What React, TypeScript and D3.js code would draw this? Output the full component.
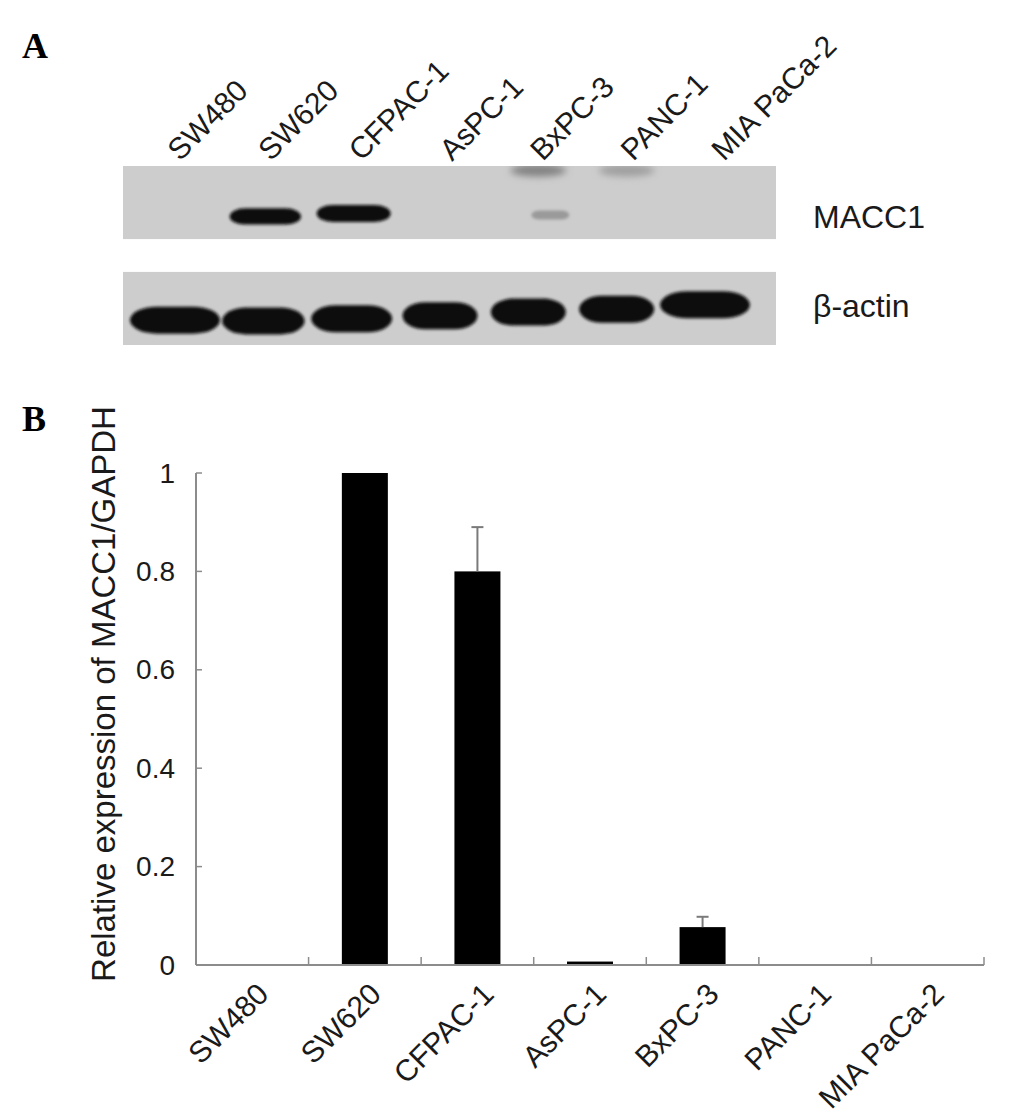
import React from 'react';
import * as d3 from 'd3';

// cell lines (same order in blot and bar chart)
const cellLines = ['SW480', 'SW620', 'CFPAC-1', 'AsPC-1', 'BxPC-3', 'PANC-1', 'MIA PaCa-2'];

// panel B: qPCR, MACC1 / GAPDH
const relExpression = [0.001, 1.0, 0.8, 0.007, 0.077, 0.001, 0.001];
const expressionSD = [0, 0, 0.09, 0, 0.021, 0, 0];
const yTicks = [0, 0.2, 0.4, 0.6, 0.8, 1];
const yTickLabels = ['0', '0.2', '0.4', '0.6', '0.8', '1'];

// panel A: western blot, band density (0..1) and migration (fraction of strip height)
const maccDensity = [0, 0.93, 1, 0, 0.2, 0, 0];
const maccMigration = [0.68, 0.69, 0.65, 0.68, 0.67, 0.68, 0.68];
const maccSmear = [0, 0, 0, 0, 0.3, 0.18, 0];
const actinDensity = [1, 0.9, 0.88, 0.8, 0.8, 0.8, 1];
const actinMigration = [0.66, 0.67, 0.64, 0.6, 0.55, 0.51, 0.45];
const blotRows = ['MACC1', 'β-actin'];

const W = 1035;
const H = 1115;
const sans = '"Liberation Sans", Arial, sans-serif';
const serif = '"Liberation Serif", "Times New Roman", serif';
const ink = '#1a1a1a';
const axisGrey = '#8c8c8c';
const blotGrey = '#cdcdcd';

export default function App() {
  // ---- panel A scales
  const blotX0 = 123;
  const blotX1 = 776;
  const stripY = d3.scaleBand().domain(blotRows).range([166, 345]).paddingInner(0.31);
  const lane = d3.scalePoint().domain(cellLines).range([175, 705]);
  const laneLabel = d3.scalePoint().domain(cellLines).range([180, 724]);
  const bandShade = d3.scaleLinear<string>().domain([0, 0.75]).range([blotGrey, '#0e0e0e']).clamp(true);

  const maccStrip = stripY('MACC1')!;
  const actinStrip = stripY('β-actin')!;
  const sh = stripY.bandwidth();
  const maccY = d3.scaleLinear().domain([0, 1]).range([maccStrip, maccStrip + sh]);
  const actinY = d3.scaleLinear().domain([0, 1]).range([actinStrip, actinStrip + sh]);

  // ---- panel B scales
  const x = d3.scaleBand().domain(cellLines).range([196, 984]).paddingInner(0);
  const y = d3.scaleLinear().domain([0, 1]).range([965, 473]);
  const barW = 46;

  return (
    <svg
      width={W}
      height={H}
      viewBox={`0 0 ${W} ${H}`}
      style={{ position: 'absolute', left: 0, top: 0, background: '#fff' }}
    >
      <defs>
        <filter id="soft" x="-20%" y="-50%" width="140%" height="200%">
          <feGaussianBlur stdDeviation="1.6" />
        </filter>
        <filter id="smear" x="-30%" y="-100%" width="160%" height="300%">
          <feGaussianBlur stdDeviation="3.5" />
        </filter>
        <clipPath id="clipMacc">
          <rect x={blotX0} y={maccStrip} width={blotX1 - blotX0} height={sh} />
        </clipPath>
        <clipPath id="clipActin">
          <rect x={blotX0} y={actinStrip} width={blotX1 - blotX0} height={sh} />
        </clipPath>
      </defs>

      {/* panel letters */}
      <text x={22} y={58} fontFamily={serif} fontWeight="bold" fontSize={36} fill="#000">A</text>
      <text x={22} y={431} fontFamily={serif} fontWeight="bold" fontSize={36} fill="#000">B</text>

      {/* ---------- Panel A: blot ---------- */}
      {cellLines.map((c) => (
        <text
          key={c}
          transform={`translate(${laneLabel(c)},162) rotate(-45)`}
          fontFamily={sans}
          fontSize={30}
          fill={ink}
        >
          {c}
        </text>
      ))}

      {blotRows.map((r) => (
        <rect key={r} x={blotX0} y={stripY(r)} width={blotX1 - blotX0} height={sh} fill={blotGrey} />
      ))}

      <g clipPath="url(#clipMacc)">
        {cellLines.map((c, i) =>
          maccSmear[i] > 0 ? (
            <ellipse
              key={c}
              cx={lane(c)! + 10}
              cy={maccY(0.06)}
              rx={28}
              ry={6}
              fill={bandShade(maccSmear[i])}
              filter="url(#smear)"
            />
          ) : null
        )}
        {cellLines.map((c, i) => {
          const d = maccDensity[i];
          if (d <= 0) return null;
          const faint = d < 0.5;
          const w = faint ? 38 : 74 * Math.sqrt(d);
          const h = faint ? 9 : 17 * Math.sqrt(d);
          const cx = lane(c)! + (faint ? 22 : 2);
          return (
            <rect
              key={c}
              x={cx - w / 2}
              y={maccY(maccMigration[i]) - h / 2}
              width={w}
              height={h}
              rx={w * 0.22}
              ry={h * 0.5}
              fill={bandShade(d)}
              filter="url(#soft)"
            />
          );
        })}
      </g>

      <g clipPath="url(#clipActin)">
        {cellLines.map((c, i) => {
          const w = 15 + 75 * actinDensity[i];
          const h = 27;
          return (
            <rect
              key={c}
              x={lane(c)! - w / 2}
              y={actinY(actinMigration[i]) - h / 2}
              width={w}
              height={h}
              rx={w * 0.3}
              ry={h * 0.5}
              fill={bandShade(actinDensity[i])}
              filter="url(#soft)"
            />
          );
        })}
      </g>

      {blotRows.map((r, i) => (
        <text
          key={r}
          x={813}
          y={stripY(r)! + (i === 0 ? 62 : 45)}
          fontFamily={sans}
          fontSize={32}
          fill={ink}
        >
          {r}
        </text>
      ))}

      {/* ---------- Panel B: bar chart ---------- */}
      {cellLines.map((c, i) => (
        <rect
          key={c}
          x={x(c)! + x.bandwidth() / 2 - barW / 2}
          y={y(relExpression[i])}
          width={barW}
          height={y(0) - y(relExpression[i])}
          fill="#000"
        />
      ))}

      {/* error bars (upper only) */}
      {cellLines.map((c, i) => {
        if (!expressionSD[i]) return null;
        const cx = x(c)! + x.bandwidth() / 2;
        const top = y(relExpression[i] + expressionSD[i]);
        return (
          <g key={c} stroke="#7a7a7a" strokeWidth={2}>
            <line x1={cx} x2={cx} y1={y(relExpression[i])} y2={top} />
            <line x1={cx - 6} x2={cx + 6} y1={top} y2={top} />
          </g>
        );
      })}

      {/* y axis */}
      <line x1={x.range()[0]} x2={x.range()[0]} y1={y(1)} y2={y(0)} stroke={axisGrey} strokeWidth={2} />
      {yTicks.map((t, i) => (
        <g key={t}>
          <line x1={x.range()[0]} x2={x.range()[0] + 6} y1={y(t)} y2={y(t)} stroke={axisGrey} strokeWidth={1.5} />
          <text
            x={175}
            y={y(t)}
            textAnchor="end"
            dominantBaseline="central"
            fontFamily={sans}
            fontSize={28}
            fill={ink}
          >
            {yTickLabels[i]}
          </text>
        </g>
      ))}
      <text
        transform={`translate(115,${(y(0) + y(1)) / 2 - 25}) rotate(-90)`}
        textAnchor="middle"
        fontFamily={sans}
        fontSize={33}
        fill={ink}
      >
        Relative expression of MACC1/GAPDH
      </text>

      {/* x axis */}
      <line x1={x.range()[0]} x2={x.range()[1]} y1={y(0)} y2={y(0)} stroke={axisGrey} strokeWidth={2} />
      {cellLines.map((c) => (
        <line
          key={c}
          x1={x(c)! + x.bandwidth()}
          x2={x(c)! + x.bandwidth()}
          y1={y(0)}
          y2={y(0) - 8}
          stroke={axisGrey}
          strokeWidth={1.5}
        />
      ))}
      {cellLines.map((c) => (
        <text
          key={c}
          transform={`translate(${x(c)! + x.bandwidth() / 2 + 18},996) rotate(-45)`}
          textAnchor="end"
          fontFamily={sans}
          fontSize={30}
          fill={ink}
        >
          {c}
        </text>
      ))}
    </svg>
  );
}
